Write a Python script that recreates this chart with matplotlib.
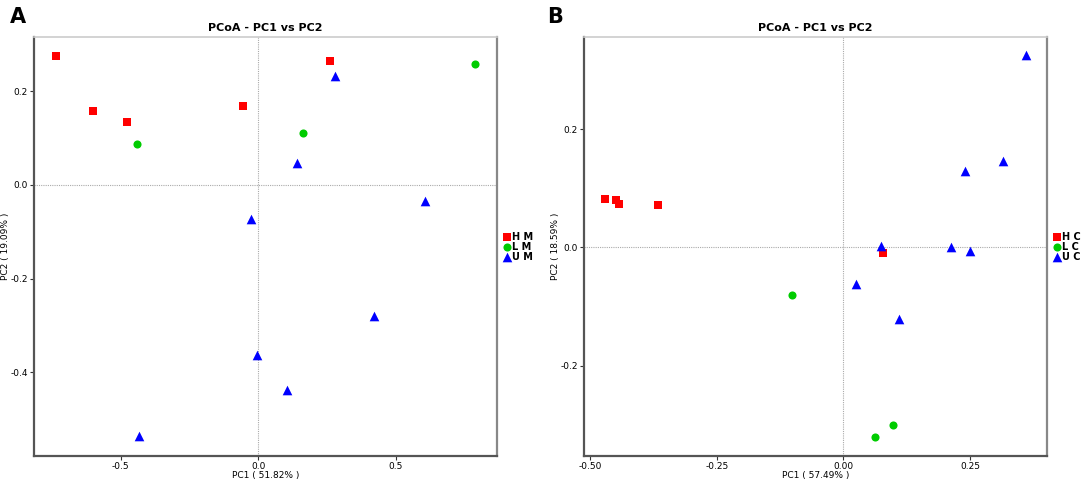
import matplotlib
matplotlib.use("Agg")
import matplotlib.pyplot as plt

plt.rcParams['font.family'] = ['DejaVu Sans']

# panel A (M groups)
hm_x = [-0.736, -0.600, -0.476, -0.056, 0.260]
hm_y = [0.276, 0.158, 0.134, 0.169, 0.265]
lm_x = [-0.441, 0.161, 0.789]
lm_y = [0.088, 0.112, 0.258]
um_x = [0.279, 0.140, -0.027, 0.607, 0.422, -0.006, 0.106, -0.432]
um_y = [0.233, 0.047, -0.073, -0.035, -0.280, -0.363, -0.438, -0.537]

# panel B (C groups)
hc_x = [-0.471, -0.449, -0.444, -0.366, 0.078]
hc_y = [0.082, 0.080, 0.074, 0.072, -0.009]
lc_x = [-0.101, 0.098, 0.062]
lc_y = [-0.080, -0.300, -0.321]
uc_x = [0.360, 0.315, 0.240, 0.074, 0.212, 0.249, 0.024, 0.110]
uc_y = [0.325, 0.147, 0.129, 0.002, 0.001, -0.006, -0.062, -0.121]

red = '#ff0000'
green = '#00cc00'
blue = '#0000ff'

fig = plt.figure(figsize=(10.84, 4.82), dpi=100)
axA = fig.add_axes([0.0317, 0.0539, 0.4265, 0.8693])
axB = fig.add_axes([0.5388, 0.0539, 0.4267, 0.8693])


def style(ax, xlabel, ylabel, xticks, xtl, yticks, ytl):
    ax.axhline(0, color='#aaaaaa', lw=0.8, ls=(0, (1, 1)), zorder=1)
    ax.axvline(0, color='#aaaaaa', lw=0.8, ls=(0, (1, 1)), zorder=1)
    ax.set_title('PCoA - PC1 vs PC2', fontsize=8, fontweight='bold', pad=4)
    ax.set_xlabel(xlabel, fontsize=6.5, labelpad=0)
    ax.set_ylabel(ylabel, fontsize=6.5)
    ax.yaxis.set_label_coords(-0.052, 0.5)
    ax.set_xticks(xticks)
    ax.set_xticklabels(xtl)
    ax.set_yticks(yticks)
    ax.set_yticklabels(ytl)
    ax.tick_params(labelsize=6.5, length=3, width=0.8, pad=1.5, colors='#333333')
    ax.tick_params(labelcolor='black')
    ax.spines['left'].set_color('#555555')
    ax.spines['bottom'].set_color('#555555')
    ax.spines['left'].set_linewidth(1.6)
    ax.spines['bottom'].set_linewidth(1.6)
    ax.spines['top'].set_color('#cccccc')
    ax.spines['top'].set_linewidth(1.2)
    ax.spines['right'].set_color('#888888')
    ax.spines['right'].set_linewidth(1.6)


axA.scatter(hm_x, hm_y, marker='s', s=34, color=red, label='H M', zorder=3, linewidths=0)
axA.scatter(lm_x, lm_y, marker='o', s=34, color=green, label='L M', zorder=3, linewidths=0)
axA.scatter(um_x, um_y, marker='^', s=48, color=blue, label='U M', zorder=3, linewidths=0)
axA.set_xlim(-0.813, 0.866)
axA.set_ylim(-0.579, 0.316)
style(axA, 'PC1 ( 51.82% )', 'PC2 ( 19.09% )',
      [-0.5, 0.0, 0.5], ['-0.5', '0.0', '0.5'],
      [-0.4, -0.2, 0.0, 0.2], ['-0.4', '-0.2', '0.0', '0.2'])

axB.scatter(hc_x, hc_y, marker='s', s=34, color=red, label='H C', zorder=3, linewidths=0)
axB.scatter(lc_x, lc_y, marker='o', s=34, color=green, label='L C', zorder=3, linewidths=0)
axB.scatter(uc_x, uc_y, marker='^', s=48, color=blue, label='U C', zorder=3, linewidths=0)
axB.set_xlim(-0.512, 0.401)
axB.set_ylim(-0.353, 0.356)
style(axB, 'PC1 ( 57.49% )', 'PC2 ( 18.59% )',
      [-0.5, -0.25, 0.0, 0.25], ['-0.50', '-0.25', '0.00', '0.25'],
      [-0.2, 0.0, 0.2], ['-0.2', '0.0', '0.2'])

for ax in (axA, axB):
    ax.legend(loc='center left', bbox_to_anchor=(1.0, 0.5), frameon=False,
              prop={'size': 7, 'weight': 'bold'}, handletextpad=0.0,
              borderaxespad=0.6, labelspacing=0.0, handlelength=1.0,
              borderpad=0.0)

fig.text(0.009, 0.965, 'A', fontsize=15, fontweight='bold', va='center')
fig.text(0.505, 0.965, 'B', fontsize=15, fontweight='bold', va='center')

fig.savefig('out.png', dpi=100)
